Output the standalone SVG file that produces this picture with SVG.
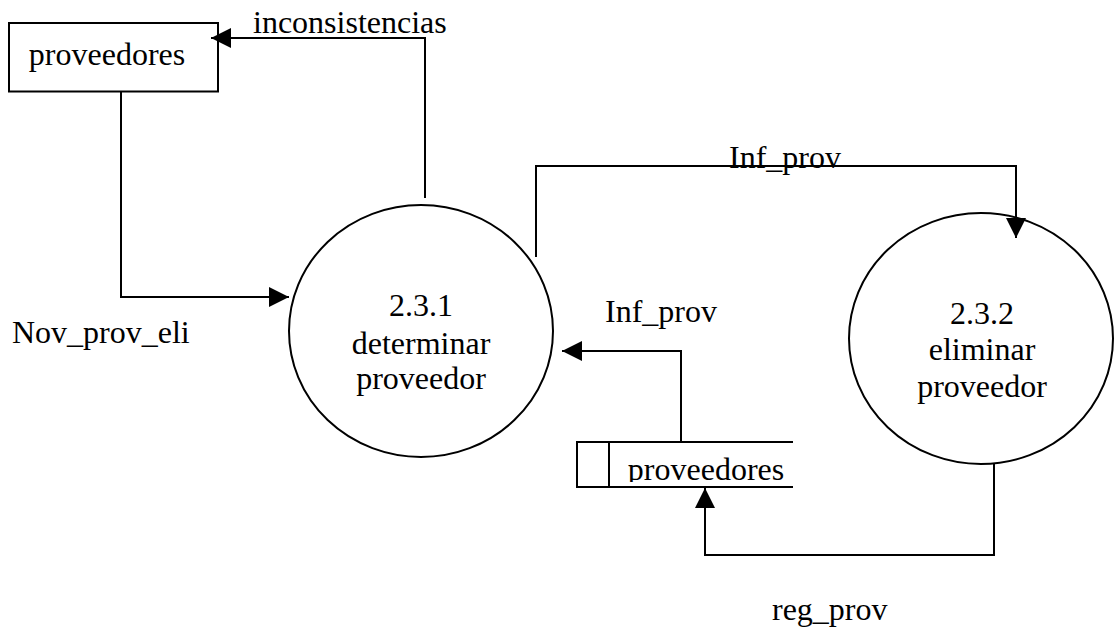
<svg xmlns="http://www.w3.org/2000/svg" width="1115" height="629" viewBox="0 0 1115 629">
<style>
.s{fill:none;stroke:#000;stroke-width:2}
.n{fill:#fff;stroke:#000;stroke-width:2}
text{font-family:"Liberation Serif","Times New Roman",serif;font-size:32px;fill:#000}
.c{text-anchor:middle}
</style>
<defs>
<marker id="a" markerUnits="userSpaceOnUse" markerWidth="20" markerHeight="20" refX="20" refY="10" orient="auto"><path d="M0 0L20 10L0 20Z" fill="#000"/></marker>
<clipPath id="clip"><rect x="610" y="443" width="184" height="39"/></clipPath>
</defs>
<rect width="1115" height="629" fill="#fff"/>
<g id="node-ext-proveedores"><rect class="n" x="9" y="23" width="209" height="68.500"/><text class="c" x="107" y="65">proveedores</text></g>
<g id="node-231"><ellipse class="n" cx="421" cy="331" rx="132" ry="126"/><text class="c" x="421" y="316">2.3.1</text><text class="c" x="421" y="354">determinar</text><text class="c" x="421" y="389">proveedor</text></g>
<g id="node-232"><ellipse class="n" cx="981" cy="338.500" rx="132" ry="125.500"/><text class="c" x="982" y="324">2.3.2</text><text class="c" x="982" y="360">eliminar</text><text class="c" x="982" y="397">proveedor</text></g>
<g id="node-store"><path class="s" d="M793 442H577V487H793M609 442V487"/><text class="c" x="706" y="480" clip-path="url(#clip)">proveedores</text></g>
<g id="labels">
<text x="253" y="33">inconsistencias</text>
<text x="729" y="168">Inf_prov</text>
<text x="605" y="322">Inf_prov</text>
<text x="12" y="343">Nov_prov_eli</text>
<text x="772" y="620">reg_prov</text>
</g>
<g id="connectors">
<path class="s" d="M425 198V38H211" marker-end="url(#a)"/>
<path class="s" d="M121 91V297H289" marker-end="url(#a)"/>
<path class="s" d="M536 257V166H1016V238" marker-end="url(#a)"/>
<path class="s" d="M681 442V351H562" marker-end="url(#a)"/>
<path class="s" d="M994 464V555H705V488" marker-end="url(#a)"/>
</g>
</svg>
